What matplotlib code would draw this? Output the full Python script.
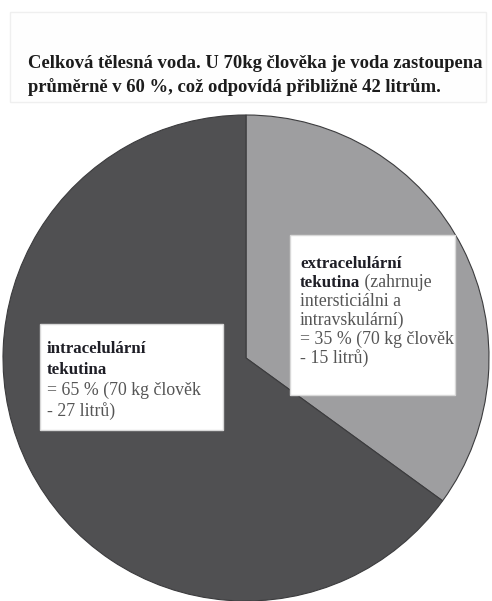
import matplotlib
matplotlib.use("Agg")
import matplotlib.pyplot as plt
from matplotlib.patches import Rectangle

# ---- data ----
categories = ["extracelulární tekutina", "intracelulární tekutina"]
shares = [35, 65]
liters = [15, 27]
title_lines = ["Celková tělesná voda. U 70kg člověka je voda zastoupena",
               "průměrně v 60 %, což odpovídá přibližně 42 litrům."]

W, H = 492, 601
DPI = 100
fig = plt.figure(figsize=(W / DPI, H / DPI), dpi=DPI)
fig.patch.set_facecolor("white")

def fx(px):
    return px / W

def fy(py):
    return 1 - py / H

SERIF = ["Liberation Serif", "DejaVu Serif"]

# ---- pie ----
cx, cy, r = 246, 358, 243
ax = fig.add_axes([fx(cx - r), fy(cy + r), 2 * r / W, 2 * r / H])
ax.pie(shares, colors=["#9e9ea0", "#505052"], startangle=90, counterclock=False,
       radius=1.0, wedgeprops=dict(edgecolor="#3c3c3e", linewidth=0.8))
ax.set_xlim(-1, 1)
ax.set_ylim(-1, 1)
ax.set_aspect("auto")
ax.axis("off")

# ---- title box ----
fig.patches.append(Rectangle((fx(10), fy(102)), fx(486) - fx(10), fy(12) - fy(102),
                             transform=fig.transFigure, facecolor="#fefefe",
                             edgecolor="#efefef", linewidth=1.0, zorder=1))
for i, ln in enumerate(title_lines):
    fig.text(fx(28), fy(68 + 24 * i), ln, fontsize=13.4, fontweight="bold",
             family=SERIF, color="#1c1c1c", va="baseline", ha="left")

# ---- label boxes ----
def box(x0, y0, x1, y1):
    fig.patches.append(Rectangle((fx(x0), fy(y1)), fx(x1) - fx(x0), fy(y0) - fy(y1),
                                 transform=fig.transFigure, facecolor="white",
                                 edgecolor="#d8d8d8", linewidth=1.0, zorder=3))

FS_B = 12.2
FS_N = 12.8
BOLD_C = "#1e1e26"
NORM_C = "#555555"

def put_line(x, y, runs):
    xpos = fx(x)
    for txt, bold in runs:
        t = fig.text(xpos, fy(y), txt, fontsize=FS_B if bold else FS_N, family=SERIF,
                     fontweight="bold" if bold else "normal",
                     color=BOLD_C if bold else NORM_C,
                     va="baseline", ha="left", zorder=5)
        fig.canvas.draw()
        xpos = t.get_window_extent().x1 / W

ext_pct, int_pct = shares
ext_l, int_l = liters

box(290, 235, 455, 395)
ext_lines = [
    [("extracelulární", True)],
    [("tekutina", True), (" (zahrnuje", False)],
    [("intersticiálni a", False)],
    [("intravskulární)", False)],
    [(f"= {ext_pct} % (70 kg člověk", False)],
    [(f"- {ext_l} litrů)", False)],
]
for i, runs in enumerate(ext_lines):
    put_line(300, 268 + 19 * i, runs)

box(40, 324, 223, 430)
int_lines = [
    [("intracelulární", True)],
    [("tekutina", True)],
    [(f"= {int_pct} % (70 kg člověk", False)],
    [(f"- {int_l} litrů)", False)],
]
for i, runs in enumerate(int_lines):
    put_line(47, 353 + 21 * i, runs)

fig.savefig("out.png", dpi=DPI, facecolor="white")
